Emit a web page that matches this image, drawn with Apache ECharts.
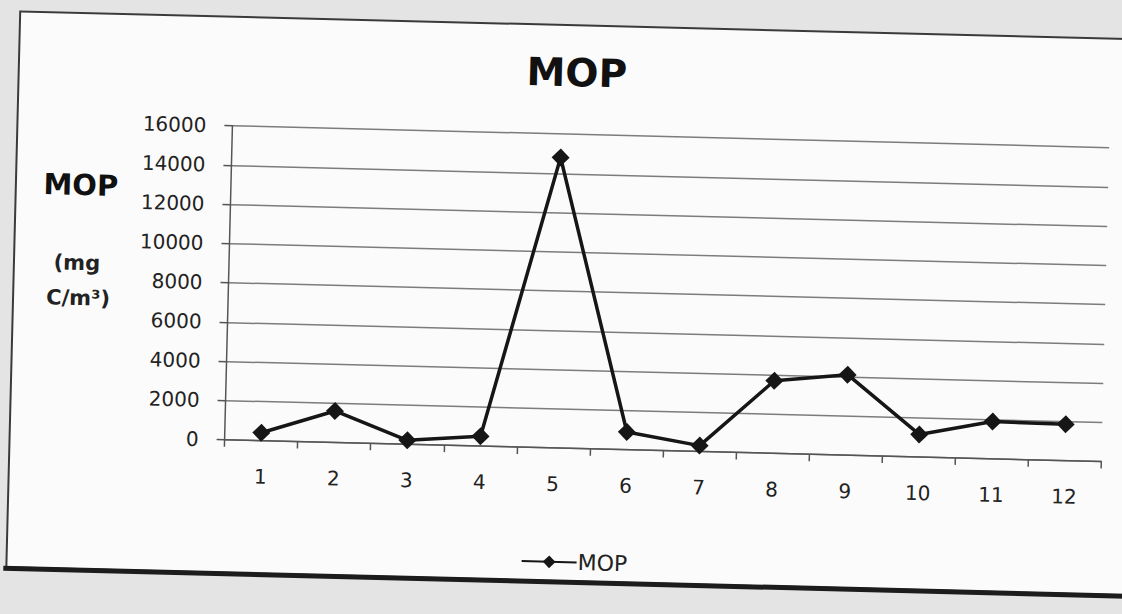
<!DOCTYPE html>
<html>
<head>
<meta charset="utf-8">
<script src="https://cdn.jsdelivr.net/npm/echarts@6/dist/echarts.min.js"></script>
<style>
  html, body { margin: 0; padding: 0; background: #e4e4e4; overflow: hidden; }
  #chart {
    position: absolute; left: 0; top: 0; width: 1180px; height: 650px;
    transform: rotate(1.43deg); transform-origin: 561px 307px;
  }
</style>
</head>
<body>
<div id="chart"></div>
<script>
const categories = ['1','2','3','4','5','6','7','8','9','10','11','12'];
const mopValues = [400, 1600, 200, 500, 14800, 900, 300, 3700, 4100, 1150, 1900, 1850];
const yTicks = { min: 0, max: 16000, interval: 2000 };
const titleText = 'MOP';
const seriesName = 'MOP';
const yTitleLines = ['MOP', '(mg', 'C/m³)'];

const FONT = '"DejaVu Sans", sans-serif';
const chart = echarts.init(document.getElementById('chart'), null, { renderer: 'svg' });

chart.setOption({
  backgroundColor: 'transparent',
  animation: false,
  title: {
    text: titleText,
    left: 566, top: 48, textAlign: 'center',
    textStyle: { fontFamily: FONT, fontSize: 39, fontWeight: 'bold', color: '#111' }
  },
  legend: {
    data: [seriesName],
    left: 522, top: 546,
    itemWidth: 55, itemHeight: 16, itemGap: 4,
    textStyle: { fontFamily: FONT, fontSize: 22, color: '#222', padding: [0,0,0,-4] }
  },
  grid: { left: 228, right: 75, top: 134, bottom: 202, containLabel: false },
  xAxis: {
    type: 'category',
    data: categories,
    boundaryGap: true,
    axisLine: { lineStyle: { color: '#555', width: 1.5 } },
    axisTick: { show: true, length: 7, lineStyle: { color: '#555', width: 1.5 } },
    axisLabel: { margin: 26, fontFamily: FONT, fontSize: 20, color: '#222' },
    splitLine: { show: false }
  },
  yAxis: {
    type: 'value',
    min: yTicks.min, max: yTicks.max, interval: yTicks.interval,
    axisLine: { show: true, lineStyle: { color: '#555', width: 1.5 } },
    axisTick: { show: true, length: 8, lineStyle: { color: '#555', width: 1.5 } },
    axisLabel: { margin: 26, fontFamily: FONT, fontSize: 20, color: '#222',
      formatter: function (v) { return String(v); } },
    splitLine: { show: true, lineStyle: { color: '#7c7c7c', width: 1.5 } }
  },
  graphic: [
    { type: 'rect', z: -10, silent: true,
      shape: { x: 13, y: 25, width: 1300, height: 556 },
      style: { fill: '#fbfbfb', stroke: '#3a3a3a', lineWidth: 2 } },
    { type: 'line', z: -5, silent: true,
      shape: { x1: 10, y1: 582, x2: 1300, y2: 582 },
      style: { stroke: '#1c1c1c', lineWidth: 5 } },
    { type: 'text', silent: true,
      style: { text: yTitleLines[0], x: 78, y: 197, textAlign: 'center', textVerticalAlign: 'middle',
        font: 'bold 29px ' + FONT, fill: '#111' } },
    { type: 'text', silent: true,
      style: { text: yTitleLines[1], x: 76, y: 275, textAlign: 'center', textVerticalAlign: 'middle',
        font: 'bold 21px ' + FONT, fill: '#222' } },
    { type: 'text', silent: true,
      style: { text: yTitleLines[2], x: 78, y: 310, textAlign: 'center', textVerticalAlign: 'middle',
        font: 'bold 21px ' + FONT, fill: '#222' } }
  ],
  series: [{
    name: seriesName,
    type: 'line',
    data: mopValues,
    symbol: 'diamond',
    symbolSize: 18,
    lineStyle: { color: '#161616', width: 3.5 },
    itemStyle: { color: '#161616' }
  }]
});
</script>
</body>
</html>
